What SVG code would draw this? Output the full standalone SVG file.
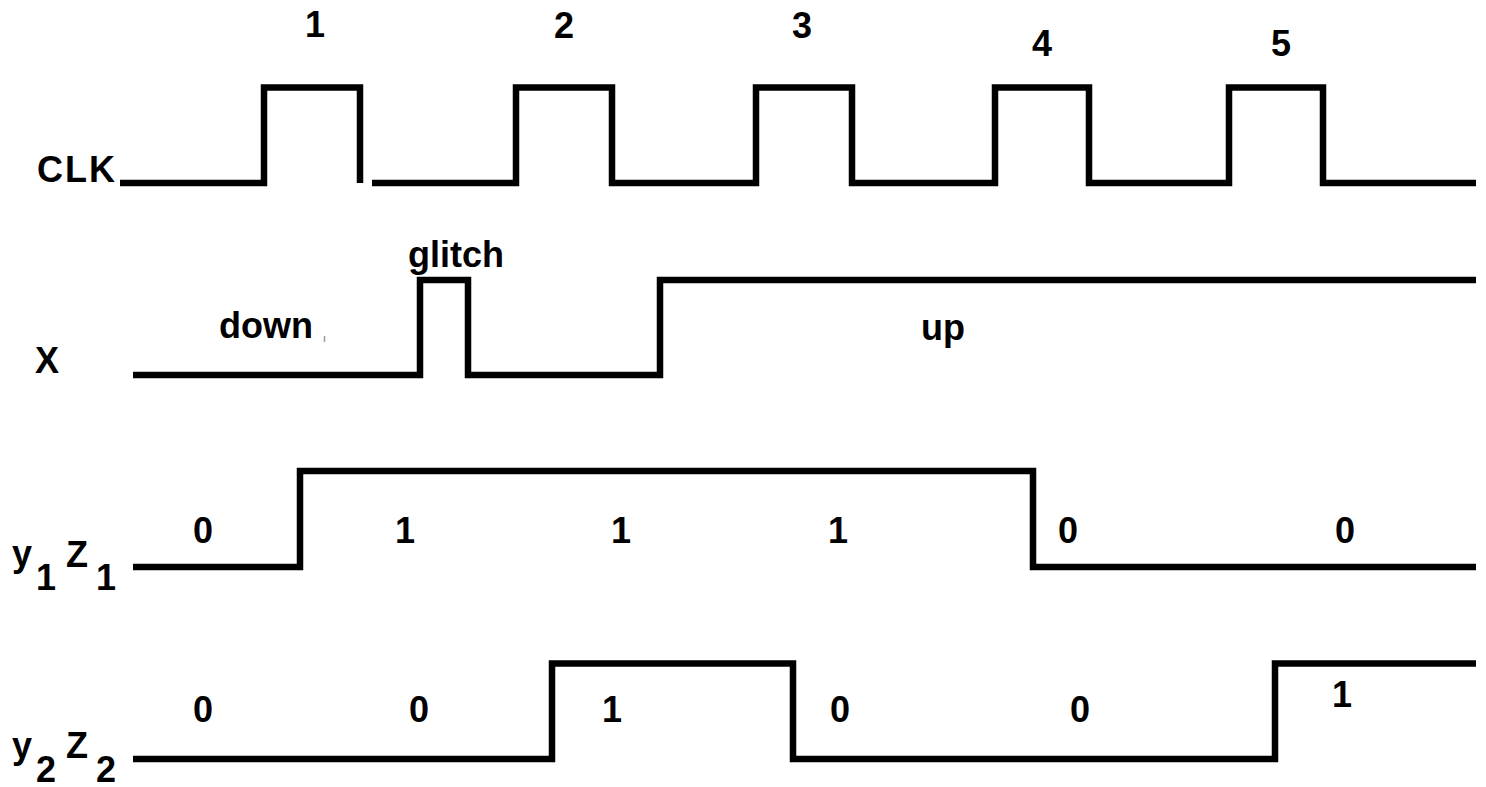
<svg xmlns="http://www.w3.org/2000/svg" width="1486" height="787" viewBox="0 0 1486 787">
<style>
.w{fill:none;stroke:#000;stroke-width:6.5;stroke-linejoin:miter;stroke-linecap:butt}
.t{font-family:"Liberation Sans",Arial,sans-serif;font-weight:bold;font-size:36px;fill:#000}
.m{text-anchor:middle}
</style>
<rect width="1486" height="787" fill="#fff"/>
<g id="cycles">
<text class="t m" x="315" y="37">1</text>
<text class="t m" x="564" y="38">2</text>
<text class="t m" x="802" y="38">3</text>
<text class="t m" x="1042" y="56">4</text>
<text class="t m" x="1281" y="56">5</text>
</g>
<g id="clk">
<text class="t" x="37" y="182" textLength="78">CLK</text>
<path class="w" d="M120,183 H264 V87.5 H360 V183"/>
<path class="w" d="M372,183 H516 V87.5 H612 V183 H756 V87.5 H852 V183 H995 V87.5 H1089 V183 H1229 V87.5 H1323 V183 H1476"/>
</g>
<g id="x">
<text class="t" x="35" y="373">X</text>
<text class="t" x="219" y="338">down</text>
<line x1="324.5" y1="336" x2="324.5" y2="342" stroke="#999" stroke-width="1.5"/>
<text class="t" x="408" y="267">glitch</text>
<text class="t" x="921" y="340">up</text>
<path class="w" d="M133,375 H420 V280 H468 V375 H660 V280 H1476"/>
</g>
<g id="y1z1">
<text class="t" x="12" y="566">y</text>
<text class="t" x="36" y="590">1</text>
<text class="t" x="66" y="567">Z</text>
<text class="t" x="96" y="590">1</text>
<path class="w" d="M133,567 H300 V471 H1033 V567 H1476"/>
<text class="t m" x="203" y="543">0</text>
<text class="t m" x="405" y="543">1</text>
<text class="t m" x="621" y="543">1</text>
<text class="t m" x="838" y="543">1</text>
<text class="t m" x="1068" y="543">0</text>
<text class="t m" x="1345" y="543">0</text>
</g>
<g id="y2z2">
<text class="t" x="12" y="758">y</text>
<text class="t" x="36" y="782">2</text>
<text class="t" x="66" y="758">Z</text>
<text class="t" x="96" y="782">2</text>
<path class="w" d="M133,759 H552 V663.5 H793 V759 H1275 V663.5 H1476"/>
<text class="t m" x="203" y="722">0</text>
<text class="t m" x="419" y="722">0</text>
<text class="t m" x="612" y="722">1</text>
<text class="t m" x="840" y="722">0</text>
<text class="t m" x="1080" y="722">0</text>
<text class="t m" x="1342" y="707">1</text>
</g>
<g id="connectors"/>
</svg>
